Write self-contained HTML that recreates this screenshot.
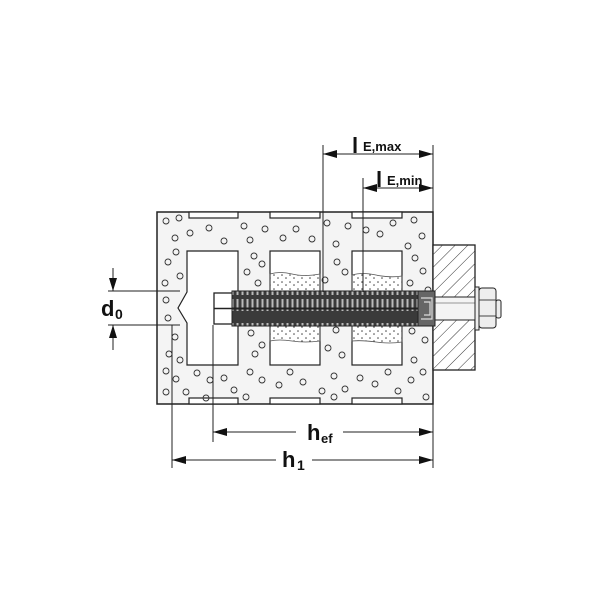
<!DOCTYPE html>
<html><head><meta charset="utf-8"><style>body{margin:0;background:#fff}svg{display:block}</style></head><body>
<svg width="600" height="600" viewBox="0 0 600 600" xmlns="http://www.w3.org/2000/svg" font-family="Liberation Sans, sans-serif">
<defs>
<pattern id="hatch" width="9" height="9" patternUnits="userSpaceOnUse" patternTransform="rotate(45)"><line x1="0" y1="0" x2="0" y2="9" stroke="#333" stroke-width="1"/></pattern>
<pattern id="sand" width="8" height="7" patternUnits="userSpaceOnUse"><circle cx="2" cy="2" r="0.8" fill="#444"/><circle cx="6" cy="5" r="0.8" fill="#444"/></pattern>
<pattern id="thr" width="5" height="40" patternUnits="userSpaceOnUse"><rect width="5" height="40" fill="#3a3a3a"/><rect x="1.5" y="3" width="2" height="12" fill="#bbb"/><rect x="1.5" y="19" width="2" height="12" fill="#bbb"/></pattern>
</defs>
<rect x="157" y="212" width="276" height="192" fill="#f4f4f4" stroke="#222" stroke-width="1.5"/>
<g fill="#fff" stroke="#222" stroke-width="1.2">
<rect x="189" y="212" width="49" height="6"/><rect x="270" y="212" width="50" height="6"/><rect x="352" y="212" width="50" height="6"/>
<rect x="189" y="398" width="49" height="6"/><rect x="270" y="398" width="50" height="6"/><rect x="352" y="398" width="50" height="6"/>
<path d="M187 251 H238 V365 H187 V323 L178 308 L187 292 Z"/>
<rect x="270" y="251" width="50" height="114"/>
<rect x="352" y="251" width="50" height="114"/>
</g>
<g fill="url(#sand)" stroke="#555" stroke-width="0.8">
<path d="M270 274 Q280 271 292 274 T320 274 V292 H270Z"/><path d="M270 324 H320 V341 Q305 343 292 341 T270 341Z"/>
<path d="M352 275 Q362 272 376 275 T402 276 V292 H352Z"/><path d="M352 324 H402 V342 Q390 344 376 342 T352 341Z"/>
</g>
<g fill="none" stroke="#333" stroke-width="0.9">
<circle cx="166" cy="221" r="3"/><circle cx="179" cy="218" r="3"/><circle cx="175" cy="238" r="3"/><circle cx="190" cy="233" r="3"/><circle cx="209" cy="228" r="3"/><circle cx="224" cy="241" r="3"/><circle cx="244" cy="226" r="3"/><circle cx="250" cy="240" r="3"/><circle cx="265" cy="229" r="3"/><circle cx="283" cy="238" r="3"/><circle cx="296" cy="229" r="3"/><circle cx="312" cy="239" r="3"/><circle cx="327" cy="223" r="3"/><circle cx="336" cy="244" r="3"/><circle cx="348" cy="226" r="3"/><circle cx="366" cy="230" r="3"/><circle cx="380" cy="234" r="3"/><circle cx="393" cy="223" r="3"/><circle cx="414" cy="220" r="3"/><circle cx="422" cy="236" r="3"/><circle cx="408" cy="246" r="3"/>
<circle cx="168" cy="262" r="3"/><circle cx="176" cy="252" r="3"/><circle cx="165" cy="283" r="3"/><circle cx="180" cy="276" r="3"/><circle cx="166" cy="300" r="3"/><circle cx="168" cy="318" r="3"/><circle cx="175" cy="337" r="3"/><circle cx="169" cy="354" r="3"/><circle cx="180" cy="360" r="3"/><circle cx="254" cy="256" r="3"/><circle cx="247" cy="272" r="3"/><circle cx="258" cy="283" r="3"/><circle cx="262" cy="264" r="3"/><circle cx="337" cy="262" r="3"/><circle cx="325" cy="280" r="3"/><circle cx="345" cy="272" r="3"/><circle cx="415" cy="258" r="3"/><circle cx="423" cy="271" r="3"/><circle cx="410" cy="283" r="3"/><circle cx="428" cy="290" r="3"/>
<circle cx="251" cy="333" r="3"/><circle cx="262" cy="345" r="3"/><circle cx="255" cy="354" r="3"/><circle cx="336" cy="330" r="3"/><circle cx="328" cy="348" r="3"/><circle cx="342" cy="355" r="3"/><circle cx="412" cy="331" r="3"/><circle cx="425" cy="340" r="3"/><circle cx="414" cy="360" r="3"/>
<circle cx="166" cy="371" r="3"/><circle cx="176" cy="379" r="3"/><circle cx="166" cy="392" r="3"/><circle cx="186" cy="392" r="3"/><circle cx="197" cy="373" r="3"/><circle cx="210" cy="380" r="3"/><circle cx="224" cy="378" r="3"/><circle cx="234" cy="390" r="3"/><circle cx="250" cy="372" r="3"/><circle cx="262" cy="380" r="3"/><circle cx="279" cy="385" r="3"/><circle cx="290" cy="372" r="3"/><circle cx="303" cy="382" r="3"/><circle cx="322" cy="391" r="3"/><circle cx="334" cy="376" r="3"/><circle cx="345" cy="389" r="3"/><circle cx="360" cy="378" r="3"/><circle cx="375" cy="384" r="3"/><circle cx="388" cy="372" r="3"/><circle cx="398" cy="391" r="3"/><circle cx="411" cy="380" r="3"/><circle cx="423" cy="372" r="3"/><circle cx="426" cy="397" r="3"/><circle cx="206" cy="398" r="3"/><circle cx="246" cy="397" r="3"/><circle cx="334" cy="397" r="3"/>
</g>
<rect x="433" y="245" width="42" height="125" fill="#fff" stroke="#222" stroke-width="1.3"/>
<rect x="433" y="245" width="42" height="125" fill="url(#hatch)"/>
<rect x="433" y="297" width="42" height="23" fill="#f4f4f4" stroke="#222" stroke-width="1"/>
<line x1="433" y1="303" x2="475" y2="303" stroke="#777" stroke-width="0.8"/>
<rect x="475" y="287" width="4" height="43" fill="#eee" stroke="#222"/>
<rect x="479" y="288" width="17" height="40" rx="3" fill="#eee" stroke="#222"/>
<line x1="479" y1="300" x2="496" y2="300" stroke="#444"/><line x1="479" y1="316" x2="496" y2="316" stroke="#444"/>
<rect x="496" y="300" width="5" height="18" rx="2" fill="#eee" stroke="#222"/>
<rect x="214" y="293" width="20" height="31" fill="#fff" stroke="#222" stroke-width="1.3"/>
<line x1="214" y1="308.5" x2="234" y2="308.5" stroke="#222" stroke-width="1.5"/>
<rect x="232" y="291" width="200" height="35" fill="url(#thr)" stroke="#222"/>
<line x1="232" y1="308.5" x2="420" y2="308.5" stroke="#222" stroke-width="2"/>
<rect x="418" y="291" width="17" height="35" fill="#666" stroke="#222"/>
<path d="M421 298 H432 V319 H421 M424 302 H430 V315 H424" fill="none" stroke="#ddd" stroke-width="1.2"/>
<g stroke="#222" stroke-width="1" fill="none">
<line x1="323" y1="145" x2="323" y2="292"/><line x1="363" y1="178" x2="363" y2="292"/><line x1="433" y1="145" x2="433" y2="212"/>
<line x1="323" y1="154" x2="433" y2="154"/><line x1="363" y1="188" x2="433" y2="188"/>
<line x1="213" y1="325" x2="213" y2="442"/><line x1="172" y1="325" x2="172" y2="468"/><line x1="433" y1="404" x2="433" y2="468"/>
<line x1="213" y1="432" x2="296" y2="432"/><line x1="343" y1="432" x2="433" y2="432"/>
<line x1="172" y1="460" x2="276" y2="460"/><line x1="312" y1="460" x2="433" y2="460"/>
<line x1="108" y1="291" x2="180" y2="291"/><line x1="108" y1="325" x2="180" y2="325"/>
<line x1="113" y1="268" x2="113" y2="291"/><line x1="113" y1="325" x2="113" y2="350"/>
</g>
<g fill="#111">
<path d="M323 154 l14 -4 v8z"/><path d="M433 154 l-14 -4 v8z"/>
<path d="M363 188 l14 -4 v8z"/><path d="M433 188 l-14 -4 v8z"/>
<path d="M213 432 l14 -4 v8z"/><path d="M433 432 l-14 -4 v8z"/>
<path d="M172 460 l14 -4 v8z"/><path d="M433 460 l-14 -4 v8z"/>
<path d="M113 291 l-4 -13 h8z"/><path d="M113 325 l-4 13 h8z"/>
</g>
<g fill="#111" font-weight="bold">
<text x="352" y="153" font-size="22">l</text><text x="363" y="151" font-size="13">E,max</text>
<text x="376" y="187" font-size="22">l</text><text x="387" y="185" font-size="13">E,min</text>
<text x="307" y="440" font-size="22">h</text><text x="321" y="443" font-size="13">ef</text>
<text x="282" y="467" font-size="22">h</text><text x="297" y="470" font-size="14">1</text>
<text x="101" y="316" font-size="22">d</text><text x="115" y="319" font-size="14">0</text>
</g>
</svg>
</body></html>
